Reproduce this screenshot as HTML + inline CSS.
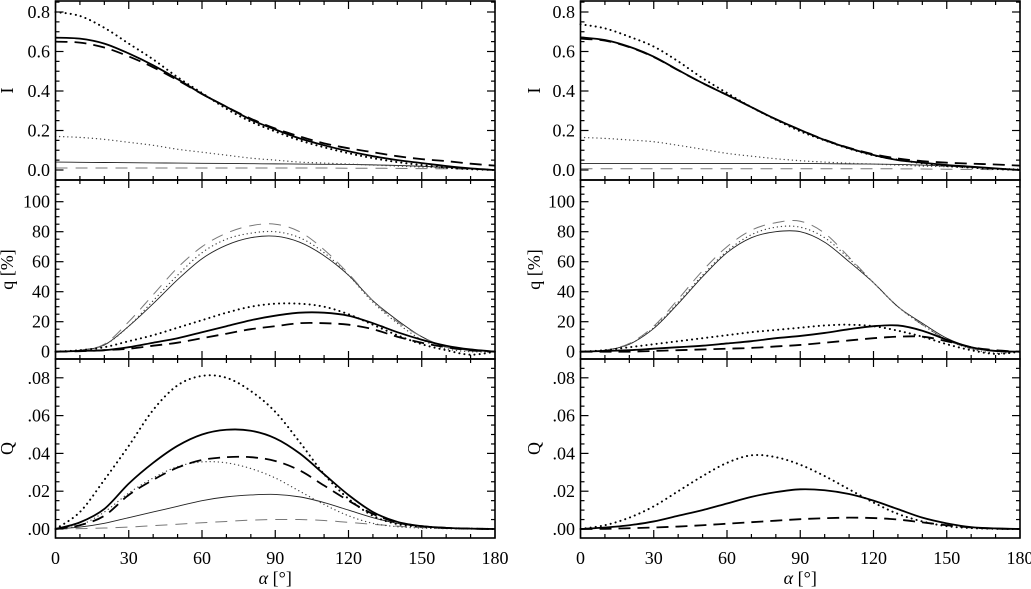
<!DOCTYPE html>
<html><head><meta charset="utf-8">
<style>
body{margin:0;background:#fff;}
svg{display:block;}
text{font-family:"Liberation Serif","Times New Roman",Times,"DejaVu Serif",serif;}
</style></head>
<body>
<svg id="chart" width="1031" height="589" viewBox="0 0 1031 589" xmlns="http://www.w3.org/2000/svg"></svg>
<script>
const alphas=[0,10,20,30,40,50,60,70,80,90,100,110,120,130,140,150,160,170,180];
// Left column
const L_I_thickSolid=[0.67,0.665,0.64,0.59,0.53,0.46,0.385,0.32,0.255,0.205,0.16,0.125,0.095,0.07,0.05,0.035,0.02,0.008,0];
const L_I_thickDot=[0.8,0.78,0.72,0.64,0.56,0.47,0.39,0.31,0.245,0.195,0.15,0.115,0.085,0.06,0.04,0.025,0.012,0.004,0];
const L_I_thickDash=[0.65,0.645,0.62,0.575,0.52,0.455,0.385,0.32,0.26,0.21,0.17,0.135,0.11,0.09,0.07,0.055,0.045,0.032,0.022];
const L_I_thinDot=[0.17,0.165,0.155,0.14,0.125,0.105,0.09,0.075,0.06,0.05,0.04,0.035,0.03,0.025,0.02,0.015,0.01,0.005,0];
const L_I_thinSolid=[0.04,0.039,0.038,0.037,0.036,0.035,0.034,0.033,0.032,0.031,0.03,0.029,0.028,0.026,0.023,0.019,0.013,0.006,0];
const L_I_thinDash=[0.01,0.01,0.01,0.01,0.01,0.01,0.01,0.01,0.01,0.01,0.01,0.01,0.009,0.009,0.008,0.007,0.006,0.004,0.002];
const L_q_thinSolid=[0,1,4.5,17,32,48,62,71,76,77,73,64,51,34,21,10,3,1,0];
const L_q_thinDash=[0,1,5,20,38,56,70,79,84,85,80,68,52,34,20,10,3,0.5,0];
const L_q_thinDot=[0,1,4.5,17,34,51,66,75,79,80,76,66,51,33,19,8,2,0,0];
const L_q_thickSolid=[0,0.5,1,3,6,9,13,17,21,24,26,26,24,19,13,8,4,1.5,0];
const L_q_thickDot=[0,1,3,7,11,16,21,26,30,32,32,30,25,18,11,5,1,-2,0];
const L_q_thickDash=[0,0.3,1,2,4,6,9,12,15,17,19,19,18,15,10,6,3,1,0];
const L_Q_thickDot=[0,0.009,0.026,0.044,0.063,0.076,0.081,0.080,0.073,0.062,0.046,0.029,0.016,0.007,0.0026,0.0012,0.0005,0.0002,0];
const L_Q_thickSolid=[0,0.0035,0.0106,0.024,0.035,0.044,0.050,0.0525,0.052,0.048,0.040,0.029,0.018,0.009,0.0038,0.0015,0.0006,0.0002,0];
const L_Q_thickDash=[0,0.002,0.007,0.018,0.026,0.0325,0.0365,0.038,0.038,0.036,0.031,0.023,0.015,0.008,0.0035,0.0015,0.0006,0.0002,0];
const L_Q_thinDot=[0,0.002,0.009,0.019,0.027,0.033,0.0355,0.035,0.032,0.027,0.020,0.013,0.007,0.003,0.0012,0.0005,0.0002,0,0];
const L_Q_thinSolid=[0,0.001,0.003,0.006,0.009,0.012,0.015,0.017,0.018,0.0183,0.017,0.014,0.010,0.006,0.003,0.0012,0.0004,0.0001,0];
const L_Q_thinDash=[0,0.0002,0.0005,0.001,0.0018,0.0025,0.0033,0.004,0.0047,0.005,0.005,0.0045,0.0035,0.0025,0.0015,0.0007,0.0003,0.0001,0];
// Right column
const R_I_thickSolid=[0.672,0.658,0.624,0.574,0.506,0.44,0.38,0.318,0.257,0.203,0.152,0.11,0.076,0.05,0.037,0.025,0.017,0.008,0];
const R_I_thickDot=[0.738,0.717,0.675,0.625,0.55,0.465,0.39,0.318,0.255,0.196,0.15,0.108,0.074,0.052,0.034,0.02,0.012,0.005,0];
const R_I_thickDash=[0.665,0.655,0.622,0.572,0.505,0.44,0.38,0.318,0.257,0.203,0.153,0.112,0.08,0.058,0.045,0.037,0.032,0.028,0.022];
const R_I_thinDot=[0.165,0.16,0.152,0.143,0.125,0.105,0.084,0.07,0.057,0.047,0.04,0.034,0.03,0.025,0.02,0.017,0.012,0.008,0.005];
const R_I_thinSolid=[0.033,0.033,0.033,0.033,0.033,0.033,0.033,0.033,0.033,0.033,0.032,0.031,0.03,0.028,0.025,0.02,0.013,0.006,0];
const R_I_thinDash=[0.006,0.006,0.006,0.006,0.006,0.006,0.006,0.006,0.006,0.006,0.006,0.006,0.006,0.006,0.005,0.004,0.003,0.002,0.001];
const R_q_thinSolid=[0,1,5,15.5,32,50,66,76,80,80,73,60,46,30,19,9,3,0.5,0];
const R_q_thinDash=[0,1,5.5,17,35,54,70,81,86,87,79,63,46,30,18,8,2,0.3,0];
const R_q_thinDot=[0,1,5,16,33,51,67,78,83,83,76,62,46,30,18,8,2,-1,0];
const R_q_thickSolid=[0,0.5,1,2,3,4,5.5,7,9,10.5,12.5,15,17,17.5,14,8,3,0.5,0];
const R_q_thickDot=[0,1,3,5,7,9,11,13,14.5,16,17.5,18,17,14,10,5,1,-1.5,0];
const R_q_thickDash=[0,0,0,0.5,1,1.5,2,2.5,3.5,4.5,6,7.5,9,10,10,7,3,1,0];
const R_Q_thickDot=[0,0.002,0.006,0.012,0.02,0.028,0.035,0.039,0.038,0.034,0.028,0.021,0.014,0.008,0.004,0.0015,0.0005,0.0001,0];
const R_Q_thickSolid=[0,0.0008,0.002,0.004,0.007,0.010,0.0135,0.017,0.0195,0.021,0.0205,0.0185,0.015,0.0105,0.006,0.003,0.001,0.0003,0];
const R_Q_thickDash=[0,0.0001,0.0004,0.0008,0.0013,0.002,0.0028,0.0036,0.0044,0.0052,0.0057,0.006,0.0058,0.005,0.0035,0.002,0.0008,0.0002,0];
const xTicks=[0,30,60,90,120,150,180];
const I_ticks=[0,0.2,0.4,0.6,0.8];
const I_labels=["0.0","0.2","0.4","0.6","0.8"];
const q_ticks=[0,20,40,60,80,100];
const q_labels=["0","20","40","60","80","100"];
const Q_ticks=[0,0.02,0.04,0.06,0.08];
const Q_labels=[".00",".02",".04",".06",".08"];

const svg=document.getElementById('chart');
const NS='http://www.w3.org/2000/svg';
function mk(tag,attrs,parent){const e=document.createElementNS(NS,tag);for(const k in attrs)e.setAttribute(k,attrs[k]);(parent||svg).appendChild(e);return e;}

const cols=[{x0:55.5,x1:495,tx:50,title:13},{x0:580.5,x1:1020,tx:575,title:540}];
const rows=[
 {top:1,bot:180,zero:170,k:197.5,ticks:I_ticks,labels:I_labels,minor:0.05,min:-0.05,max:0.85,title:"I"},
 {top:180,bot:359,zero:351.7,k:1.5,ticks:q_ticks,labels:q_labels,minor:5,min:-5,max:115,title:"q [%]"},
 {top:359,bot:538,zero:529,k:1890,ticks:Q_ticks,labels:Q_labels,minor:0.005,min:-0.005,max:0.09,title:"Q"}
];
const styles={
 thickSolid:{w:1.8,c:'#000',d:''},
 thickDot:{w:2,c:'#000',d:'0.1 5',cap:'round'},
 thickDash:{w:1.8,c:'#000',d:'12 7'},
 thinSolid:{w:0.9,c:'#222',d:''},
 thinDot:{w:1.3,c:'#444',d:'0.1 4',cap:'round'},
 thinDash:{w:1,c:'#777',d:'12 8'}
};
const panels=[
 [0,0,{thinDash:L_I_thinDash,thinSolid:L_I_thinSolid,thinDot:L_I_thinDot,thickDash:L_I_thickDash,thickDot:L_I_thickDot,thickSolid:L_I_thickSolid}],
 [0,1,{thinSolid:L_q_thinSolid,thinDash:L_q_thinDash,thinDot:L_q_thinDot,thickSolid:L_q_thickSolid,thickDot:L_q_thickDot,thickDash:L_q_thickDash}],
 [0,2,{thinDash:L_Q_thinDash,thinSolid:L_Q_thinSolid,thinDot:L_Q_thinDot,thickDash:L_Q_thickDash,thickSolid:L_Q_thickSolid,thickDot:L_Q_thickDot}],
 [1,0,{thinDash:R_I_thinDash,thinSolid:R_I_thinSolid,thinDot:R_I_thinDot,thickDash:R_I_thickDash,thickDot:R_I_thickDot,thickSolid:R_I_thickSolid}],
 [1,1,{thinSolid:R_q_thinSolid,thinDash:R_q_thinDash,thinDot:R_q_thinDot,thickSolid:R_q_thickSolid,thickDot:R_q_thickDot,thickDash:R_q_thickDash}],
 [1,2,{thickDash:R_Q_thickDash,thickSolid:R_Q_thickSolid,thickDot:R_Q_thickDot}]
];
const rowNames=['intensity','polarization-percent','stokes-q'];
function smoothPath(pts){
 let d='M'+pts[0][0].toFixed(2)+','+pts[0][1].toFixed(2);
 for(let i=0;i<pts.length-1;i++){
  const p0=pts[Math.max(0,i-1)],p1=pts[i],p2=pts[i+1],p3=pts[Math.min(pts.length-1,i+2)];
  const c1=[p1[0]+(p2[0]-p0[0])/6,p1[1]+(p2[1]-p0[1])/6];
  const c2=[p2[0]-(p3[0]-p1[0])/6,p2[1]-(p3[1]-p1[1])/6];
  d+=' C'+c1[0].toFixed(2)+','+c1[1].toFixed(2)+' '+c2[0].toFixed(2)+','+c2[1].toFixed(2)+' '+p2[0].toFixed(2)+','+p2[1].toFixed(2);
 }
 return d;
}
panels.forEach(([ci,ri,series])=>{
 const c=cols[ci],r=rows[ri];
 const g=mk('g',{});
 
 
 const xs=a=>c.x0+(a/180)*(c.x1-c.x0);
 const ys=v=>r.zero-v*r.k;
 for(const key in series){
  const st=styles[key];
  const pts=alphas.map((a,i)=>[xs(a),ys(series[key][i])]);
  const p=mk('path',{d:smoothPath(pts),fill:'none',stroke:st.c,'stroke-width':st.w,'stroke-dasharray':st.d,'stroke-linecap':st.cap||'butt'},g);
  
  
 }
 const fr=mk('rect',{x:c.x0,y:r.top,width:c.x1-c.x0,height:r.bot-r.top,fill:'none',stroke:'#000','stroke-width':1.6},g);
 
 
 for(let a=0;a<=180;a+=10){
  const x=xs(a),len=(a%30===0)?8:4;
  mk('line',{x1:x,y1:r.bot,x2:x,y2:r.bot-len,stroke:'#000','stroke-width':1.2},g);
  mk('line',{x1:x,y1:r.top,x2:x,y2:r.top+len,stroke:'#000','stroke-width':1.2},g);
 }
 const nMin=Math.ceil(r.min/r.minor),nMax=Math.floor(r.max/r.minor);
 for(let n=nMin;n<=nMax;n++){
  const v=n*r.minor,y=ys(v);
  if(y<r.top+1||y>r.bot-1)continue;
  const major=r.ticks.some(t=>Math.abs(t-v)<r.minor/10);
  const len=major?8:4;
  mk('line',{x1:c.x0,y1:y,x2:c.x0+len,y2:y,stroke:'#000','stroke-width':1.2},g);
  mk('line',{x1:c.x1,y1:y,x2:c.x1-len,y2:y,stroke:'#000','stroke-width':1.2},g);
 }
 r.ticks.forEach((t,i)=>{
  const tl=mk('text',{x:c.tx,y:ys(t)+6,'text-anchor':'end','font-size':18},g);
  tl.textContent=r.labels[i];
  
  
 });
 const yc=(r.top+r.bot)/2;
 const tt=mk('text',{x:c.title,y:yc,'text-anchor':'middle','font-size':18,transform:'rotate(-90 '+c.title+' '+yc+')'},g);
 tt.textContent=r.title;
 
 
 if(ri===2){
  xTicks.forEach(a=>{
   const xl=mk('text',{x:xs(a),y:564,'text-anchor':'middle','font-size':18},g);
   xl.textContent=String(a);
   
   
  });
  const xt=mk('text',{x:(c.x0+c.x1)/2,y:584,'text-anchor':'middle','font-size':18},g);
  const ta=mk('tspan',{'font-style':'italic'},xt);
  ta.textContent='α';
  const tb=mk('tspan',{},xt);
  tb.textContent=' [°]';
  
  
 }
});
</script>
</body></html>
